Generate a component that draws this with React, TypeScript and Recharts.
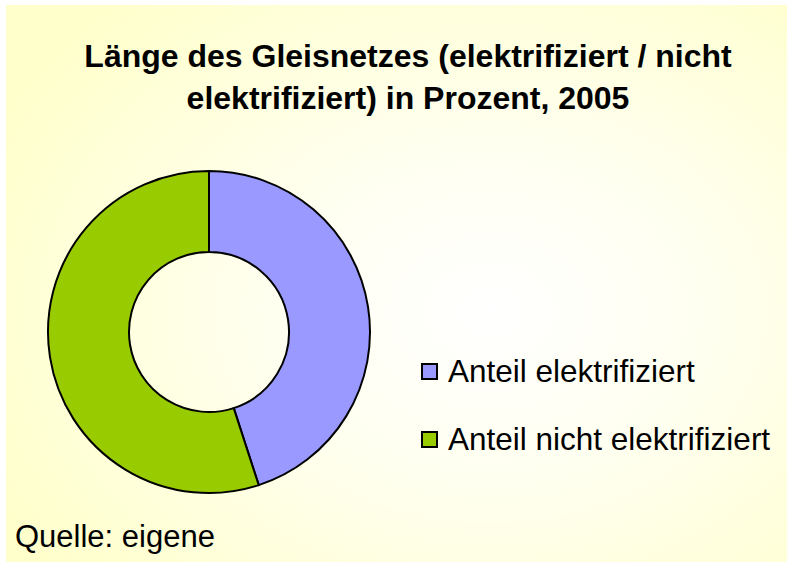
import { PieChart, Pie, Cell, Legend } from 'recharts'

const categories = ['Anteil elektrifiziert', 'Anteil nicht elektrifiziert']
const shares = [45, 55]
const colors = ['#9999FF', '#99CC00']

const titleLines = ['Länge des Gleisnetzes (elektrifiziert / nicht', 'elektrifiziert) in Prozent, 2005']
const sourceNote = 'Quelle: eigene'

const data = categories.map((name, i) => ({ name, value: shares[i] }))

const font = '"Liberation Sans", Arial, sans-serif'

function LegendBox() {
  return (
    <div style={{ fontFamily: font, fontSize: 31.5, color: '#000' }}>
      {categories.map((name, i) => (
        <div key={name} style={{ display: 'flex', alignItems: 'center', height: 34, marginBottom: 34 }}>
          <span
            style={{
              display: 'inline-block',
              width: 13,
              height: 13,
              background: colors[i],
              border: '2px solid #000',
              marginRight: 10,
            }}
          />
          <span>{name}</span>
        </div>
      ))}
    </div>
  )
}

export default function App() {
  return (
    <div
      style={{
        position: 'absolute',
        left: 0,
        top: 0,
        width: 787,
        height: 562,
        background: '#fff',
        overflow: 'hidden',
      }}
    >
      <div
        style={{
          position: 'absolute',
          left: 6,
          top: 5,
          width: 781,
          height: 557,
          background: 'radial-gradient(ellipse 70% 75% at 62% 55%, #ffffff 0%, #fffff0 40%, #ffffcc 100%)',
        }}
      />
      <div
        style={{
          position: 'absolute',
          left: 0,
          top: 35,
          width: 816,
          textAlign: 'center',
          fontFamily: font,
          fontWeight: 'bold',
          fontSize: 32,
          lineHeight: '42px',
          color: '#000',
        }}
      >
        {titleLines.map((t) => (
          <div key={t}>{t}</div>
        ))}
      </div>
      <div style={{ position: 'absolute', left: 0, top: 0 }}>
        <PieChart width={787} height={562}>
          <Pie
            data={data}
            dataKey="value"
            nameKey="name"
            cx={204}
            cy={327}
            outerRadius={161}
            innerRadius={80}
            startAngle={90}
            endAngle={-270}
            stroke="#000"
            strokeWidth={2}
            isAnimationActive={false}
          >
            {data.map((d, i) => (
              <Cell key={d.name} fill={colors[i]} />
            ))}
          </Pie>
          <Legend
            content={() => <LegendBox />}
            wrapperStyle={{ position: 'absolute', left: 421, top: 354, width: 366 }}
          />
        </PieChart>
      </div>
      <div
        style={{
          position: 'absolute',
          left: 15,
          top: 519,
          fontFamily: font,
          fontSize: 31,
          color: '#000',
        }}
      >
        {sourceNote}
      </div>
    </div>
  )
}
